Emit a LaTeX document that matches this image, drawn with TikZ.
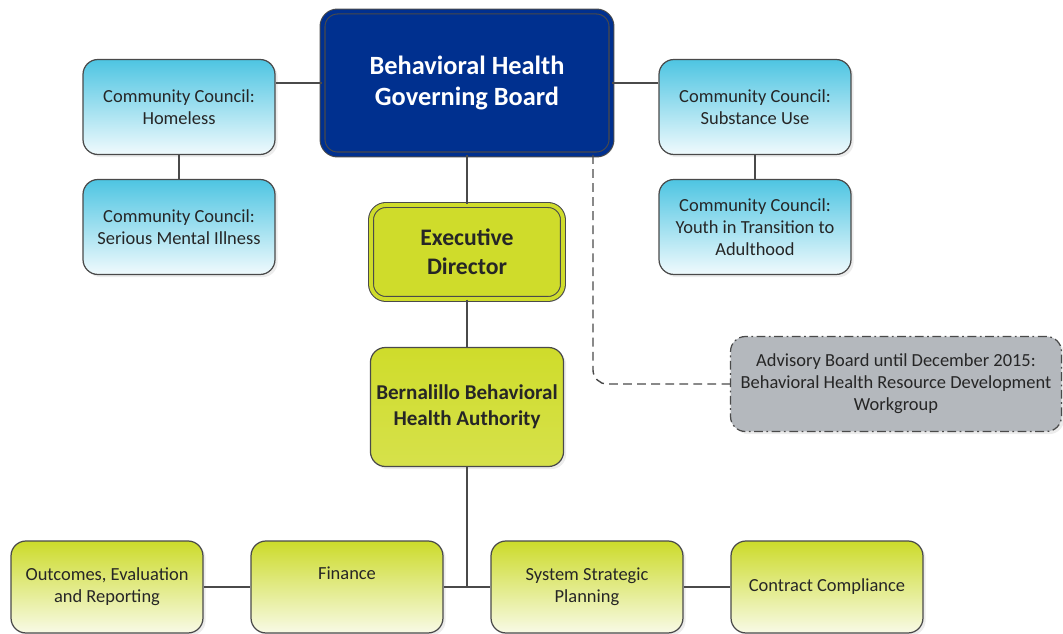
\documentclass[tikz,border=0pt]{standalone}
\usepackage{fontspec}
\setmainfont{Carlito}
\usetikzlibrary{positioning,shadows}
\definecolor{BoardBlue}{HTML}{00308F}
\definecolor{CouncilTop}{HTML}{4EC5E2}
\definecolor{CouncilBot}{HTML}{F0FAFD}
\definecolor{LimeTop}{HTML}{CCDB2A}
\definecolor{LimeBot}{HTML}{F8FAE6}
\definecolor{LimeFill}{HTML}{CFDC2B}
\definecolor{AdvGray}{HTML}{B4B8BD}
\definecolor{EdgeGray}{HTML}{4A4A4A}
\definecolor{TextGray}{HTML}{262626}
\tikzset{%
box/.style={rectangle, rounded corners=8.5pt, draw=EdgeGray, line width=0.7pt, align=center, text=TextGray, font=\fontsize{10.5}{12.5}\selectfont, minimum width=3.84cm, minimum height=1.9cm, drop shadow={opacity=0.15, shadow xshift=1.5pt, shadow yshift=-1.5pt}},
council/.style={box, top color=CouncilTop, bottom color=CouncilBot},
unit/.style={box, top color=LimeTop, bottom color=LimeBot, minimum height=1.84cm},
twoline/.style={double distance=2.2pt, line width=0.6pt},
link/.style={draw=EdgeGray, line width=0.7pt},
advlink/.style={draw=EdgeGray, line width=0.8pt, dash pattern=on 5pt off 3pt, rounded corners=8pt}
}
\begin{document}
\begin{tikzpicture}[x=0.02cm, y=-0.02cm]
		\useasboundingbox (0,0) rectangle (1063,634);
		\node[box, twoline, fill=BoardBlue, double=BoardBlue, text=white, minimum width=5.78cm, minimum height=2.86cm, font=\bfseries\fontsize{15}{18}\selectfont] (board) at (467,83) {Behavioral Health\\Governing Board};
		\node[council] (homeless) at (179,107) {Community Council:\\Homeless};
		\node[council] (smi) at (179,227) {Community Council:\\Serious Mental Illness};
		\node[council] (substance) at (755,107) {Community Council:\\Substance Use};
		\node[council] (youth) at (755,227) {Community Council:\\Youth in Transition to\\Adulthood};
		\node[box, twoline, fill=LimeFill, double=LimeFill, minimum height=1.88cm, font=\bfseries\fontsize{13.5}{16.5}\selectfont, text=black!85] (exec) at (467,252) {Executive\\Director};
		\node[box, top color=LimeFill, bottom color=LimeFill!85!white, minimum height=2.38cm, font=\bfseries\fontsize{12}{14.5}\selectfont, text=black!85] (bbha) at (467,407) {Bernalillo Behavioral\\Health Authority};
		\node[box, fill=AdvGray, minimum width=6.62cm, dash pattern=on 5pt off 2pt on 1pt off 2pt] (advisory) at (896,384) {Advisory Board until December 2015:\\Behavioral Health Resource Development\\Workgroup};
		\node[unit] (outcomes) at (107,587) {Outcomes, Evaluation\\and Reporting};
		\node[unit] (finance) at (347,587) {Finance\\\strut};
		\node[unit] (planning) at (587,587) {System Strategic\\Planning};
		\node[unit] (contract) at (827,587) {Contract Compliance};
		\coordinate (advtap) at (593,155);

		\path[link] (board.west) edge (board.west -| homeless.east);
		\path[link] (board.east) edge (board.east -| substance.west);
		\path[link] (homeless) edge (smi);
		\path[link] (substance) edge (youth);
		\path[link] (board) edge (exec);
		\path[link] (exec) edge (bbha);
		\path[link] (bbha) edge (bbha |- finance.east);
		\path[link] (outcomes) edge (finance);
		\path[link] (finance) edge (planning);
		\path[link] (planning) edge (contract);
		\draw[advlink] (advtap) |- (advisory.west);
	\end{tikzpicture}
\end{document}
